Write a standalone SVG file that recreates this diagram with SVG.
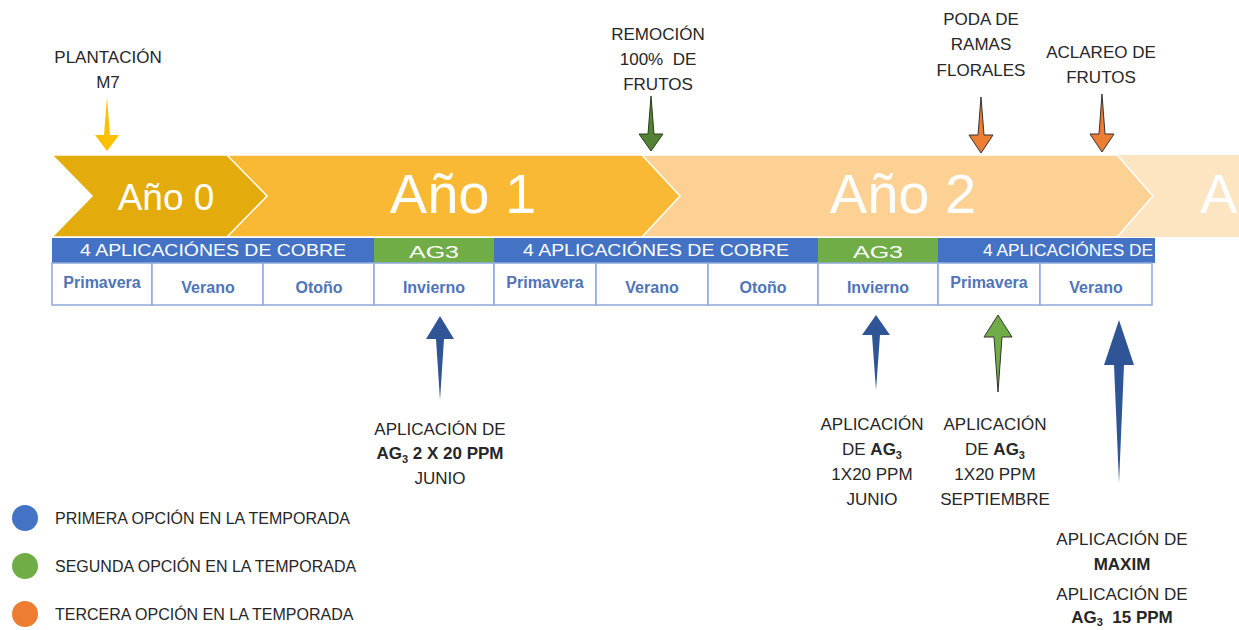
<svg xmlns="http://www.w3.org/2000/svg" width="1239" height="630" viewBox="0 0 1239 630">
<style>
.lbl{font-family:"Liberation Sans",Arial,sans-serif;font-size:17px;fill:#262626;text-anchor:middle;white-space:pre}
.b{font-weight:bold}
.yr{font-family:"Liberation Sans",Arial,sans-serif;fill:#ffffff;text-anchor:middle}
.bar{font-family:"Liberation Sans",Arial,sans-serif;font-size:17px;fill:#ffffff;text-anchor:middle}
.sea{font-family:"Liberation Sans",Arial,sans-serif;font-size:16px;font-weight:bold;fill:#4F74B8;text-anchor:middle}
.cell{fill:#ffffff;stroke:#8EA9DB;stroke-width:1.5}
.leg{font-family:"Liberation Sans",Arial,sans-serif;font-size:16px;fill:#262626}
.blueA{fill:#2F5597}
.greenA{fill:#70AD47;stroke:#333;stroke-width:1}
.dgreenA{fill:#548235;stroke:#2a3f1b;stroke-width:1}
.orangeA{fill:#ED7D31;stroke:#333;stroke-width:1}
.yellowA{fill:#FFC000}
</style>
<rect width="1239" height="630" fill="#ffffff"/>

<g id="chevrons">
  <polygon points="1100,155 1239,155 1239,237 1100,237" fill="#FDE5C2"/>
  <polygon points="600,155 1117,155 1153,196 1117,237 600,237" fill="#FDD193" stroke="#fff" stroke-width="1.5"/>
  <polygon points="200,155 642,155 680,196 642,237 200,237" fill="#FAB935" stroke="#fff" stroke-width="1.5"/>
  <polygon points="52,155 227,155 267,196 227,237 52,237 92,196" fill="#E3AC0C" stroke="#fff" stroke-width="1.5"/>
  <text class="yr" x="166" y="210" font-size="37">Año 0</text>
  <text class="yr" x="463" y="213" font-size="56">Año 1</text>
  <text class="yr" x="903" y="213" font-size="56">Año 2</text>
  <text class="yr" x="1200" y="213" font-size="56" style="text-anchor:start">A</text>
</g>

<g id="bars">
  <rect x="52" y="238" width="322" height="25" fill="#4472C4"/>
  <rect x="374" y="238" width="120" height="25" fill="#70AD47"/>
  <rect x="494" y="238" width="324" height="25" fill="#4472C4"/>
  <rect x="818" y="238" width="120" height="25" fill="#70AD47"/>
  <rect x="938" y="238" width="217" height="25" fill="#4472C4"/>
  <text class="bar" x="213" y="256" textLength="266" lengthAdjust="spacingAndGlyphs">4 APLICACIÓNES DE COBRE</text>
  <text class="bar" x="434" y="258" font-size="19" textLength="50" lengthAdjust="spacingAndGlyphs">AG3</text>
  <text class="bar" x="656" y="256" textLength="266" lengthAdjust="spacingAndGlyphs">4 APLICACIÓNES DE COBRE</text>
  <text class="bar" x="878" y="258" font-size="19" textLength="50" lengthAdjust="spacingAndGlyphs">AG3</text>
  <text class="bar" x="1153" y="256" style="text-anchor:end" textLength="170" lengthAdjust="spacingAndGlyphs">4 APLICACIÓNES DE</text>
</g>

<g id="seasons">
  <rect class="cell" x="52" y="263" width="100" height="42"/>
  <rect class="cell" x="152" y="263" width="111" height="42"/>
  <rect class="cell" x="263" y="263" width="111" height="42"/>
  <rect class="cell" x="374" y="263" width="120" height="42"/>
  <rect class="cell" x="494" y="263" width="102" height="42"/>
  <rect class="cell" x="596" y="263" width="112" height="42"/>
  <rect class="cell" x="708" y="263" width="110" height="42"/>
  <rect class="cell" x="818" y="263" width="120" height="42"/>
  <rect class="cell" x="938" y="263" width="102" height="42"/>
  <rect class="cell" x="1040" y="263" width="112" height="42"/>
  <text class="sea" x="102" y="288">Primavera</text>
  <text class="sea" x="208" y="293">Verano</text>
  <text class="sea" x="319" y="293">Otoño</text>
  <text class="sea" x="434" y="293">Invierno</text>
  <text class="sea" x="545" y="288">Primavera</text>
  <text class="sea" x="652" y="293">Verano</text>
  <text class="sea" x="763" y="293">Otoño</text>
  <text class="sea" x="878" y="293">Invierno</text>
  <text class="sea" x="989" y="288">Primavera</text>
  <text class="sea" x="1096" y="293">Verano</text>
</g>

<g id="connectors">
  <path class="yellowA" d="M107,97 L110,135 L119,135 L107,151 L95,135 L104,135 Z"/>
  <path class="dgreenA" d="M651,96 L654,134 L663,134 L651,151 L639,134 L648,134 Z"/>
  <path class="orangeA" d="M981,97 L984,135 L993,135 L981,153 L969,135 L978,135 Z"/>
  <path class="orangeA" d="M1102,94 L1105,134 L1114,134 L1102,152 L1090,134 L1099,134 Z"/>
  <path class="blueA" d="M440,316 L454,339 L444,339 L440,400 L436,339 L426,339 Z"/>
  <path class="blueA" d="M876,315 L890,335 L880,335 L876,390 L872,335 L862,335 Z"/>
  <path class="greenA" d="M998,315 L1012,337 L1002,337 L998,392 L994,337 L984,337 Z"/>
  <path class="blueA" d="M1119,320 L1134,365 L1124,365 L1119,483 L1114,365 L1104,365 Z"/>
</g>

<g id="plantacion">
  <text class="lbl" x="108" y="63">PLANTACIÓN</text>
  <text class="lbl" x="108" y="88">M7</text>
</g>
<g id="remocion">
  <text class="lbl" x="658" y="40">REMOCIÓN</text>
  <text class="lbl" x="658" y="65">100%  DE</text>
  <text class="lbl" x="658" y="90">FRUTOS</text>
</g>
<g id="poda">
  <text class="lbl" x="981" y="25">PODA DE</text>
  <text class="lbl" x="981" y="50">RAMAS</text>
  <text class="lbl" x="981" y="76">FLORALES</text>
</g>
<g id="aclareo">
  <text class="lbl" x="1101" y="58">ACLAREO DE</text>
  <text class="lbl" x="1101" y="83">FRUTOS</text>
</g>

<g id="ag3-junio-ano1">
  <text class="lbl" x="440" y="435">APLICACIÓN DE</text>
  <text class="lbl b" x="440" y="459">AG<tspan font-size="11" dy="4">3</tspan><tspan dy="-4"> 2 X 20 PPM</tspan></text>
  <text class="lbl" x="440" y="484">JUNIO</text>
</g>
<g id="ag3-junio-ano2">
  <text class="lbl" x="872" y="430">APLICACIÓN</text>
  <text class="lbl" x="872" y="455">DE <tspan class="b">AG</tspan><tspan class="b" font-size="11" dy="4">3</tspan></text>
  <text class="lbl" x="872" y="480">1X20 PPM</text>
  <text class="lbl" x="872" y="505">JUNIO</text>
</g>
<g id="ag3-septiembre">
  <text class="lbl" x="995" y="430">APLICACIÓN</text>
  <text class="lbl" x="995" y="455">DE <tspan class="b">AG</tspan><tspan class="b" font-size="11" dy="4">3</tspan></text>
  <text class="lbl" x="995" y="480">1X20 PPM</text>
  <text class="lbl" x="995" y="505">SEPTIEMBRE</text>
</g>
<g id="maxim">
  <text class="lbl" x="1122" y="545">APLICACIÓN DE</text>
  <text class="lbl b" x="1122" y="570">MAXIM</text>
  <text class="lbl" x="1122" y="600">APLICACIÓN DE</text>
  <text class="lbl b" x="1122" y="623">AG<tspan font-size="11" dy="3">3</tspan><tspan dy="-3">  15 PPM</tspan></text>
</g>

<g id="legend">
  <circle cx="25" cy="518" r="13" fill="#4472C4"/>
  <circle cx="25" cy="566" r="13" fill="#70AD47"/>
  <circle cx="25" cy="614" r="13" fill="#ED7D31"/>
  <text class="leg" x="55" y="524">PRIMERA OPCIÓN EN LA TEMPORADA</text>
  <text class="leg" x="55" y="572">SEGUNDA OPCIÓN EN LA TEMPORADA</text>
  <text class="leg" x="55" y="620">TERCERA OPCIÓN EN LA TEMPORADA</text>
</g>
</svg>
